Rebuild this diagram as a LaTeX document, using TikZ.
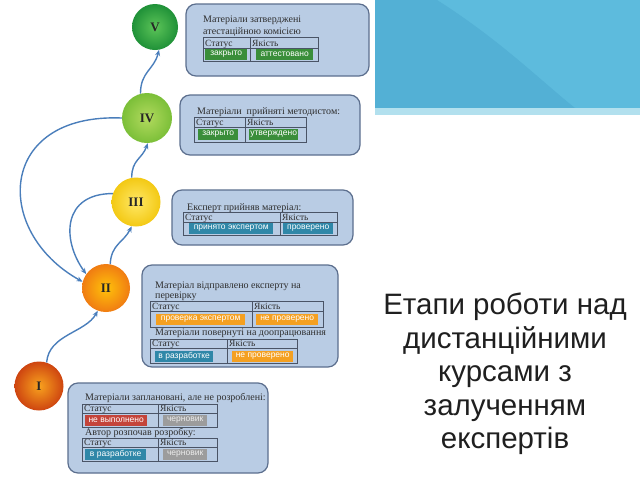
\documentclass[tikz,border=0pt]{standalone}
\usepackage{fontspec}
\setmainfont{Liberation Serif}
\newfontfamily\sansf{Liberation Sans}
\usetikzlibrary{arrows.meta}
\definecolor{boxfill}{HTML}{B9CCE4}
\definecolor{boxline}{HTML}{5C6F8E}
\definecolor{tabline}{HTML}{4A5466}
\definecolor{arrc}{HTML}{4A7EBB}
\definecolor{bgreen}{HTML}{3A8E3A}
\definecolor{bteal}{HTML}{2F87A8}
\definecolor{borange}{HTML}{F4A021}
\definecolor{bred}{HTML}{C4443A}
\definecolor{bgray}{HTML}{9C9C9C}
\definecolor{hdrblue}{HTML}{5DBBDD}
\definecolor{hdrdark}{HTML}{53B0D5}
\definecolor{hdrstrip}{HTML}{B2E0EE}
\definecolor{txt}{HTML}{2E2E2E}
\definecolor{c5in}{HTML}{5CC458}
\definecolor{c5out}{HTML}{1F9138}
\definecolor{c4in}{HTML}{B2DA5E}
\definecolor{c4out}{HTML}{7BBF38}
\definecolor{c3in}{HTML}{FFE866}
\definecolor{c3out}{HTML}{F3C914}
\definecolor{c2in}{HTML}{FFC20A}
\definecolor{c2out}{HTML}{F07C12}
\definecolor{c1in}{HTML}{F8A21E}
\definecolor{c1out}{HTML}{CE4510}
\tikzset{
  stagebox/.style={rounded corners=10pt, fill=boxfill, draw=boxline, line width=1.2pt},
  tline/.style={draw=tabline, line width=0.6pt},
  hdr/.style={anchor=base west, inner sep=0pt, text=txt, font=\fontsize{9.5}{10}\selectfont},
  desc/.style={anchor=base west, inner sep=0pt, text=txt, font=\fontsize{10}{11}\selectfont},
  badge/.style={anchor=west, inner sep=0pt, minimum height=11pt, text=white, font=\sansf\fontsize{8.5}{9}\selectfont},
  circ/.style={circle, inner sep=0pt, font=\bfseries\fontsize{13}{13}\selectfont, text=black!85},
  arr/.style={draw=arrc, line width=1.4pt, -{Stealth[length=6pt,width=5pt]}},
}
\newcommand\mytab[7]{%
  \draw[tline] (#1,#2) rectangle (#4,#6);
  \draw[tline] (#1,#5) -- (#4,#5) (#3,#2) -- (#3,#6);
  \node[hdr] (#7s) at ({#1+2},{#5-2}) {Статус};
  \node[hdr] (#7q) at ({#3+2},{#5-2}) {Якість};}
\begin{document}
\begin{tikzpicture}[x=1pt,y=-1pt]
\useasboundingbox (0,0) rectangle (640,480);
\fill[white] (0,0) rectangle (640,480);
% header band
\fill[hdrblue] (375,0) rectangle (640,108);
\fill[hdrdark] (375,0) -- (437,0) .. controls (500,40) and (540,80) .. (575,108) -- (375,108) -- cycle;
\fill[hdrstrip] (375,108) rectangle (640,115);
% boxes
\draw[stagebox] (186,4) rectangle (369,76);
\draw[stagebox] (180,95) rectangle (360,155);
\draw[stagebox] (172,190) rectangle (353,245);
\draw[stagebox] (142,265) rectangle (338,367);
\draw[stagebox] (68,383) rectangle (268,473);
% box V
\node[desc] (t5a) at (203,22) {Матеріали затверджені};
\node[desc] (t5b) at (203,34) {атестаційною комісією};
\mytab{203}{37}{250}{318}{48}{61}{h5}
\node[badge, fill=bgreen, minimum width=42pt] (b5a) at (205,54.5) {закрыто};
\node[badge, fill=bgreen, minimum width=57pt] (b5b) at (256,54.5) {аттестовано};
% box IV
\node[desc] (t4a) at (197,114) {Матеріали\ \ прийняті методистом:};
\mytab{194}{117}{245}{306}{127}{142}{h4}
\node[badge, fill=bgreen, minimum width=40pt] (b4a) at (198,134) {закрыто};
\node[badge, fill=bgreen, minimum width=49pt] (b4b) at (249,134) {утверждено};
% box III
\node[desc] (t3a) at (187,210) {Експерт прийняв матеріал:};
\mytab{183}{212}{280}{337}{222}{235}{h3}
\node[badge, fill=bteal, minimum width=84pt] (b3a) at (189,228.5) {принято экспертом};
\node[badge, fill=bteal, minimum width=50pt] (b3b) at (283,228.5) {проверено};
% box II
\node[desc] (t2a) at (155,288) {Матеріал відправлено експерту на};
\node[desc] (t2b) at (155,298.5) {перевірку};
\mytab{150}{301}{252}{323}{311}{327}{h2}
\node[badge, fill=borange, minimum width=89pt] (b2a) at (156,319) {проверка экспертом};
\node[badge, fill=borange, minimum width=62pt] (b2b) at (256,319) {не проверено};
\node[desc] (t2c) at (155,335.5) {Матеріали повернуті на доопрацювання};
\mytab{150}{339}{227}{297}{348}{363}{h2b}
\node[badge, fill=bteal, minimum width=58pt] (b2c) at (155,356) {в разработке};
\node[badge, fill=borange, minimum width=61pt] (b2d) at (232,356) {не проверено};
% box I
\node[desc] (t1a) at (85,400.5) {Матеріали заплановані, але не розроблені:};
\mytab{82}{404}{158}{217}{413}{427}{h1}
\node[badge, fill=bred, minimum width=62pt] (b1a) at (85,420.5) {не выполнено};
\node[badge, fill=bgray, minimum width=44pt, text=white!85!gray] (b1b) at (163,420.5) {черновик};
\node[desc] (t1b) at (85,435) {Автор розпочав розробку:};
\mytab{82}{438}{158}{217}{447}{461}{h1b}
\node[badge, fill=bteal, minimum width=61pt] (b1c) at (85,454.5) {в разработке};
\node[badge, fill=bgray, minimum width=44pt, text=white!85!gray] (b1d) at (163,454.5) {черновик};
% circles
\node[circ, minimum size=46pt, inner color=c5in, outer color=c5out] (c5) at (155,27) {V};
\node[circ, minimum size=50pt, inner color=c4in, outer color=c4out] (c4) at (147,118) {IV};
\node[circ, minimum size=49pt, inner color=c3in, outer color=c3out] (c3) at (136,202) {III};
\node[circ, minimum size=48pt, inner color=c2in, outer color=c2out] (c2) at (106,288) {II};
\node[circ, minimum size=49pt, inner color=c1in, outer color=c1out] (c1) at (39,386) {I};
% connectors
\draw[arr] (c1.72) .. controls +(2,-28) and +(-12,22) .. (c2.-110);
\draw[arr] (c2.80) .. controls +(1,-20) and +(-8,16) .. (c3.-100);
\draw[arr] (c3.100) .. controls +(0,-18) and +(-6,16) .. (c4.-88);
\draw[arr] (c4.105) .. controls +(0,-22) and +(-5,20) .. (c5.-80);
\draw[arr] (c3.160) .. controls +(-50,0) and +(-25,-35) .. (c2.145);
\draw[arr] (c4.180) .. controls +(-125,-5) and +(-90,-50) .. (c2.165);
% title
\node[anchor=north, inner sep=0pt, align=center, text=black!88, font=\sansf\fontsize{29.5}{33.5}\selectfont] (title) at (505,293) {Етапи роботи над\\дистанційними\\курсами з\\залученням\\експертів};
\end{tikzpicture}
\end{document}
